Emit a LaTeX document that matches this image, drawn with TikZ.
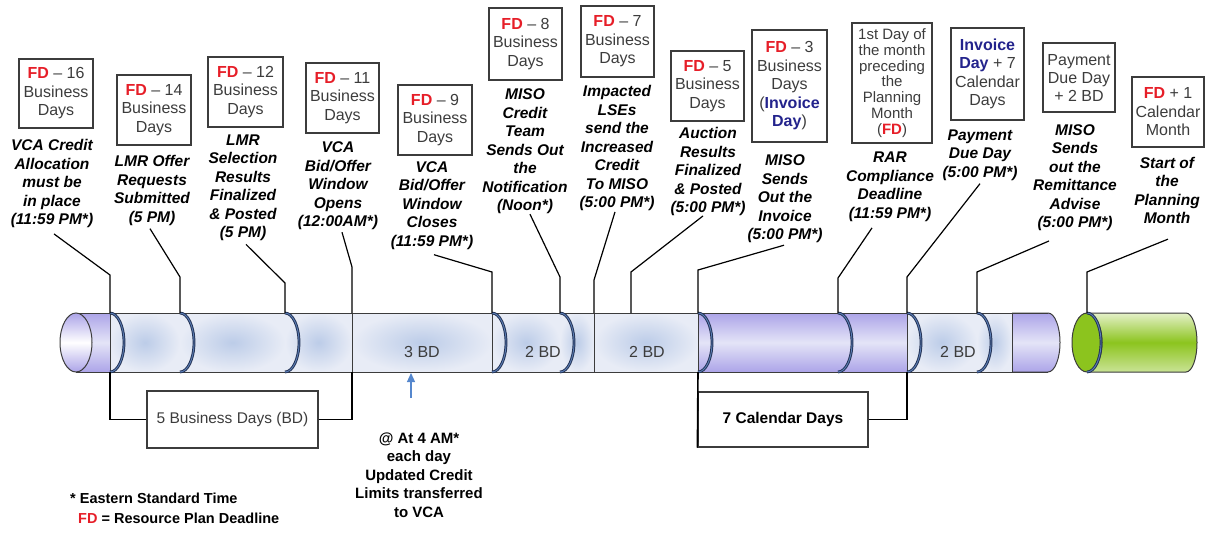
\documentclass[tikz,border=0pt]{standalone}
\usepackage{fontspec}
\setmainfont{Liberation Sans}
\usetikzlibrary{arrows.meta}
\definecolor{fdred}{RGB}{230,30,40}
\definecolor{invblue}{RGB}{35,35,140}
\definecolor{boxgray}{RGB}{60,60,60}
\definecolor{tubeblue}{RGB}{188,204,232}
\definecolor{tubepale}{RGB}{232,236,246}
\definecolor{tubepurple}{RGB}{172,164,232}
\definecolor{purplepale}{RGB}{228,228,247}
\definecolor{ringnavy}{RGB}{35,50,85}
\definecolor{ringblue}{RGB}{90,125,180}
\definecolor{plangreen}{RGB}{140,196,30}
\definecolor{greenpale}{RGB}{228,240,200}
\definecolor{arrowblue}{RGB}{85,135,205}
\newcommand{\fd}{\textcolor{fdred}{\textbf{FD}}}
\newcommand{\inv}[1]{\textcolor{invblue}{\textbf{#1}}}

\begin{document}
\begin{tikzpicture}[
    x=1pt, y=-1pt,
    datebox/.style={draw=boxgray, line width=1.3pt, minimum width=74, minimum height=70, inner sep=0pt, align=center, text=boxgray, font=\fontsize{16}{18.5}\selectfont},
    event/.style={align=center, inner sep=0pt, font=\fontsize{15.5}{18.5}\selectfont\bfseries\itshape},
    conn/.style={draw, line width=1.2pt},
    bracket/.style={draw, line width=1.6pt},
    span/.style={draw=boxgray, line width=1.2pt, fill=white, inner sep=0pt, align=center, font=\fontsize{15.5}{18}\selectfont},
    bdtext/.style={text=boxgray, font=\fontsize{16}{18}\selectfont},
    purple/.style={top color=tubepurple, bottom color=tubepurple, middle color=purplepale}
]
\useasboundingbox (0,0) rectangle (1205,538);

% tube
\foreach \a/\b in {110/180,180/285,285/352,352/492,492/560,560/594,594/698,907/977,977/1012}
    \shade[inner color=tubeblue, outer color=tubepale] (\a,313) rectangle (\b,372);
\shade[purple] (76,313) rectangle (110,372);
\shade[purple] (698,313) rectangle (907,372);
\shadedraw[purple, draw=boxgray, line width=1pt] (1012,313) -- (1048,313) arc[start angle=-90, end angle=90, x radius=12, y radius=29.5] -- (1012,372);
\draw[boxgray, line width=1pt] (76,313) -- (1048,313) (76,372) -- (1048,372);
\foreach \v in {110,352,492,594,698,907,1012}
    \draw[boxgray, line width=1pt] (\v,313) -- (\v,372);
\shadedraw[top color=tubepurple, bottom color=tubepurple, middle color=white, draw=boxgray, line width=1pt] (76,342.5) ellipse[x radius=16, y radius=29.5];

% planning month
\shadedraw[top color=greenpale, bottom color=greenpale!70!plangreen, middle color=plangreen, draw=boxgray, line width=1pt] (1087,313) -- (1186,313) arc[start angle=-90, end angle=90, x radius=11, y radius=29.5] -- (1087,372);
\filldraw[fill=plangreen, draw=boxgray, line width=1pt] (1087,342.5) ellipse[x radius=15, y radius=29.5];

\foreach \r in {110,180,285,492,560,698,838,907,977,1087} {
    \draw[ringnavy, line width=2.8pt] (\r,313) arc[start angle=-90, end angle=90, x radius=14, y radius=29.5];
    \draw[ringblue, line width=0.9pt] (\r,313) arc[start angle=-90, end angle=90, x radius=14, y radius=29.5];
}

\node[bdtext] (bd3) at (422,352) {3 BD};
\node[bdtext] (bd2a) at (543,352) {2 BD};
\node[bdtext] (bd2b) at (647,352) {2 BD};
\node[bdtext] (bd2c) at (958,352) {2 BD};

% deadline boxes
\node[datebox, minimum height=69] (d16) at (56,93.5) {\fd{} \textendash{} 16\\Business\\Days};
\node[datebox] (d14) at (154,110) {\fd{} \textendash{} 14\\Business\\Days};
\node[datebox, minimum width=75] (d12) at (245.5,92) {\fd{} \textendash{} 12\\Business\\Days};
\node[datebox, minimum width=73] (d11) at (342.5,98) {\fd{} \textendash{} 11\\Business\\Days};
\node[datebox] (d9) at (435,120) {\fd{} \textendash{} 9\\Business\\Days};
\node[datebox, minimum width=73, minimum height=72] (d8) at (525.5,44) {\fd{} \textendash{} 8\\Business\\Days};
\node[datebox, minimum width=73, minimum height=71] (d7) at (617.5,41.5) {\fd{} \textendash{} 7\\Business\\Days};
\node[datebox, minimum width=73] (d5) at (707.5,86) {\fd{} \textendash{} 5\\Business\\Days};
\node[datebox, minimum width=75, minimum height=112] (d3) at (789.5,86) {\fd{} \textendash{} 3\\Business\\Days\\(\inv{Invoice}\\\inv{Day})};
\node[datebox, minimum width=80, minimum height=120, font=\fontsize{15}{15.8}\selectfont] (dfirst) at (892,83) {1st Day of\\the month\\preceding\\the\\Planning\\Month\\(\fd)};
\node[datebox, minimum width=73, minimum height=92] (dinv) at (987.5,74) {\inv{Invoice}\\\inv{Day} + 7\\Calendar\\Days};
\node[datebox, minimum width=72, minimum height=69, font=\fontsize{16}{18}\selectfont] (dpay) at (1079,77.5) {Payment\\Due Day\\+ 2 BD};
\node[datebox, minimum width=72] (dplus) at (1168,112) {\fd{} + 1\\Calendar\\Month};

% events
\node[event] (lab1) at (52,183.5) {VCA Credit\\Allocation\\must be\\in place\\(11:59 PM*)};
\node[event] (lab2) at (152,190.5) {LMR Offer\\Requests\\Submitted\\(5 PM)};
\node[event] (lab3) at (243,188) {LMR\\Selection\\Results\\Finalized\\\& Posted\\(5 PM)};
\node[event] (lab4) at (338,186) {VCA\\Bid/Offer\\Window\\Opens\\(12:00AM*)};
\node[event] (lab5) at (432,205.5) {VCA\\Bid/Offer\\Window\\Closes\\(11:59 PM*)};
\node[event] (lab6) at (525,151.5) {MISO\\Credit\\Team\\Sends Out\\the\\Notification\\(Noon*)};
\node[event] (lab7) at (617,148) {Impacted\\LSEs\\send the\\Increased\\Credit\\To MISO\\(5:00 PM*)};
\node[event] (lab8) at (708,171.5) {Auction\\Results\\Finalized\\\& Posted\\(5:00 PM*)};
\node[event] (lab9) at (785,199) {MISO\\Sends\\Out the\\Invoice\\(5:00 PM*)};
\node[event] (lab10) at (890,187) {RAR\\Compliance\\Deadline\\(11:59 PM*)};
\node[event] (lab11) at (980,155) {Payment\\Due Day\\(5:00 PM*)};
\node[event] (lab12) at (1075,177.5) {MISO\\Sends\\out the\\Remittance\\Advise\\(5:00 PM*)};
\node[event] (lab13) at (1167,190.5) {Start of\\the\\Planning\\Month};

\foreach \i/\dx/\dy/\kx/\ky in {1/2/6/110/275, 2/-2/3/180/277, 3/3/3/285/283, 4/4/2/352/267,
        5/2/5/492/272, 6/5/0/560/277, 7/-2/1/594/280, 8/-5/0/631/272, 9/-1/2/698/270,
        10/-18/6/838/278, 11/0/3/907/277, 12/-26/10/977/272, 13/1/15/1087/272} {
    \coordinate (t\i) at (\kx,313);
    \draw[conn] ([xshift=\dx*1pt, yshift=-\dy*1pt]lab\i.south) -- (\kx,\ky) -- (t\i);
}

% spans below the tube
\node[span, minimum width=171, minimum height=57, text=boxgray] (bd5) at (232.5,419.5) {5 Business Days (BD)};
\node[span, minimum width=170, minimum height=55, font=\fontsize{15.5}{18}\selectfont\bfseries] (cd7) at (783,419.5) {7 Calendar Days};
\coordinate (s1) at (110,372);
\coordinate (s4) at (352,372);
\coordinate (s9) at (698,372);
\coordinate (s11) at (907,372);
\draw[bracket] (s1) -- (s1 |- bd5.west) -- (bd5.west);
\draw[bracket] (bd5.east) -- (s4 |- bd5.east) -- (s4);
\draw[bracket] (s9) -- (cd7.south west);
\draw[bracket] (cd7.east) -- (s11 |- cd7.east) -- (s11);

\coordinate (arrtail) at (411,398);
\draw[arrowblue, line width=1.2pt, -{Triangle[length=9pt, width=8pt]}] (arrtail) -- (411,373);
\node[align=center, inner sep=0pt, font=\fontsize{15}{18.5}\selectfont\bfseries] (upd) at (419,475) {@ At 4 AM*\\each day\\Updated Credit\\Limits transferred\\to VCA};

% legend
\node[anchor=west, inner sep=0pt, font=\fontsize{14.5}{17}\selectfont\bfseries] (est) at (70,498) {* Eastern Standard Time};
\node[anchor=west, inner sep=0pt, font=\fontsize{14.5}{17}\selectfont\bfseries] (fdnote) at (78,518) {\textcolor{fdred}{FD} = Resource Plan Deadline};
\end{tikzpicture}
\end{document}
